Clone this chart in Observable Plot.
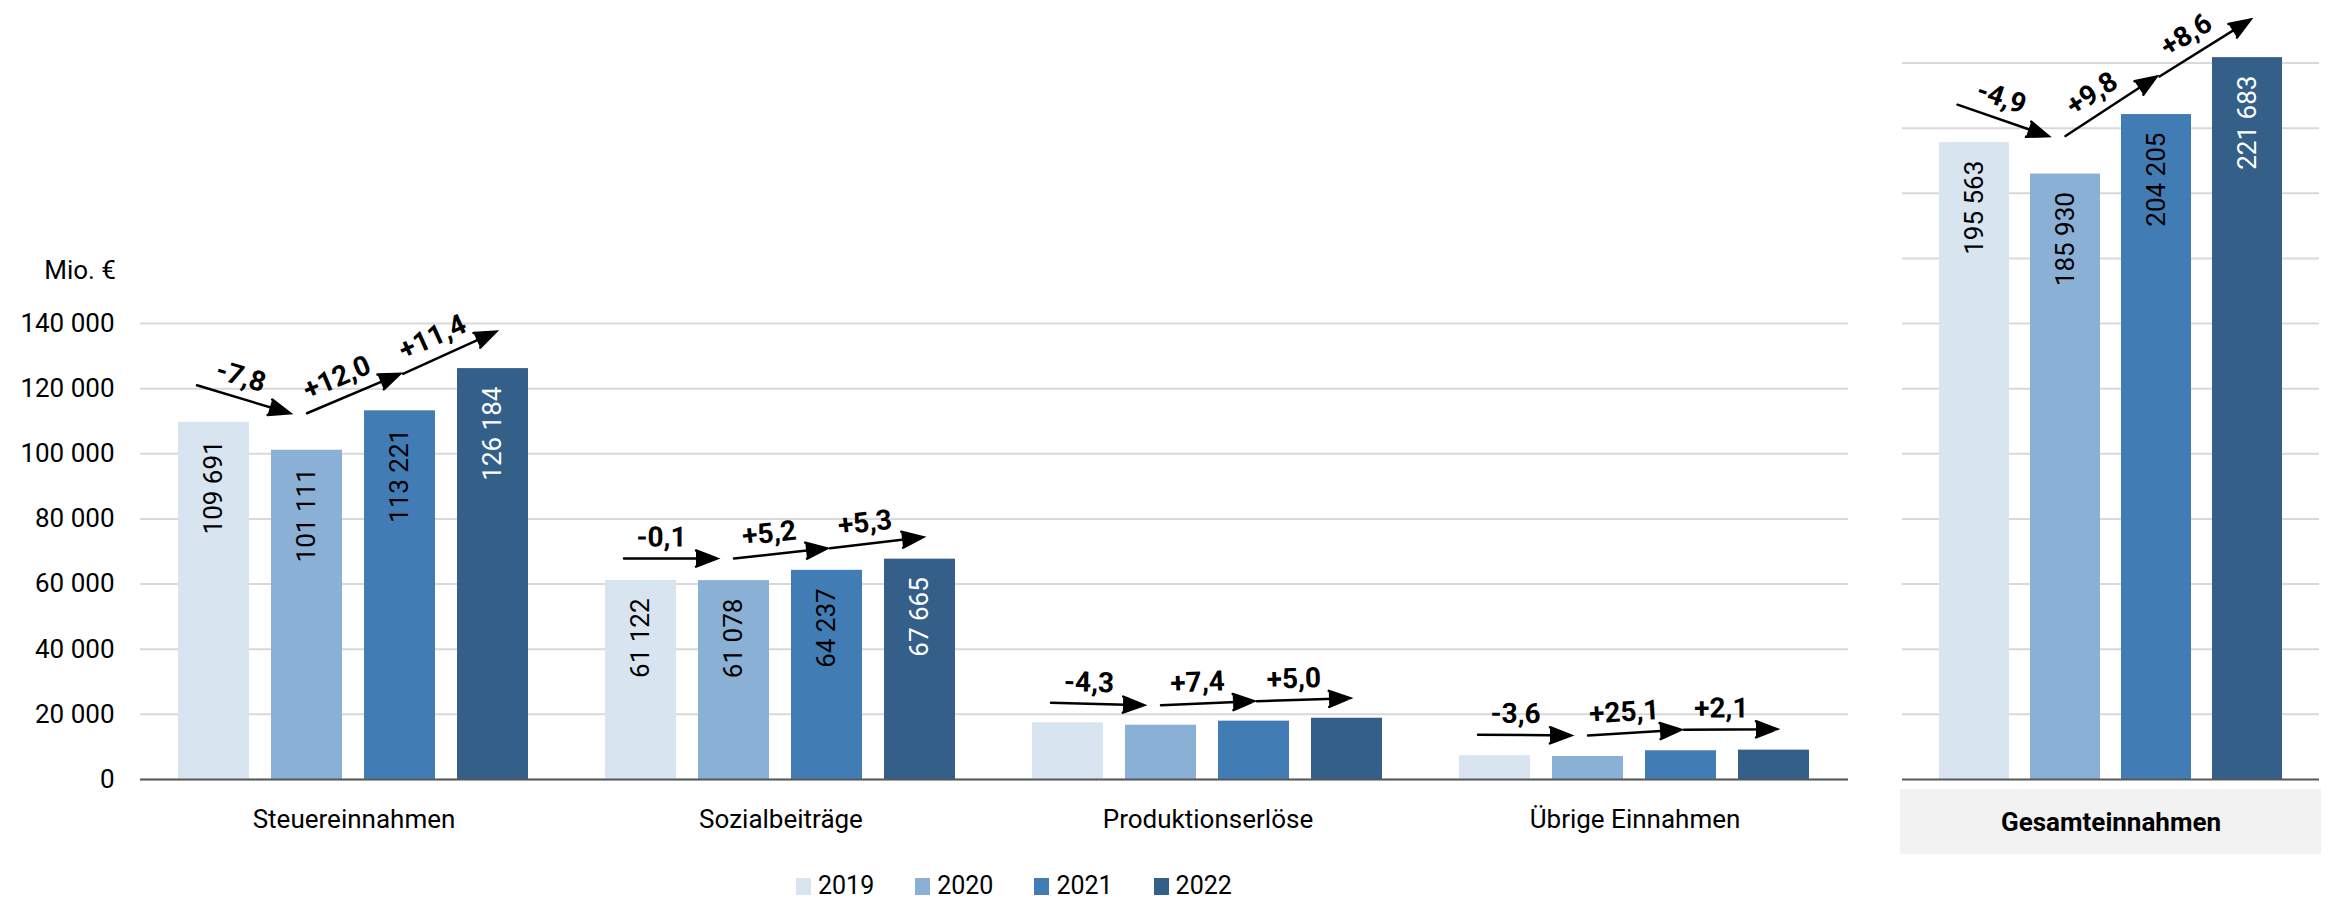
<!DOCTYPE html>
<html>
<head>
<meta charset="utf-8">
<script src="https://cdn.jsdelivr.net/npm/d3@7"></script>
<script src="https://cdn.jsdelivr.net/npm/@observablehq/plot@0.6"></script>
<style>
html, body { margin: 0; padding: 0; background: #fff; }
#wrap { position: relative; width: 2331px; height: 902px; overflow: hidden; font-family: Roboto, sans-serif; color: #000; }
#unit { position: absolute; left: 0; width: 116px; top: 255px; line-height: 30px; font-size: 26px; text-align: right; }
#gbox { position: absolute; left: 1900px; top: 789px; width: 421px; height: 65px; background: #f2f2f2; }
#left { position: absolute; left: 0; top: 0; }
#right { position: absolute; left: 1880px; top: 0; }
#legend { position: absolute; left: 796px; top: 872px; display: flex; align-items: center; font-size: 25px; line-height: 28px; }
#legend .item { display: flex; align-items: center; margin-right: 41px; }
#legend .sw { width: 15px; height: 17px; margin-right: 7px; }
</style>
</head>
<body>
<div id="wrap">
  <div id="unit">Mio. €</div>
  <div id="gbox"></div>
  <div id="left"></div>
  <div id="right"></div>
  <div id="legend"></div>
</div>
<script>
// ---- data ----
const years = ["2019", "2020", "2021", "2022"];
const groups = ["Steuereinnahmen", "Sozialbeiträge", "Produktionserlöse", "Übrige Einnahmen"];
const totalGroup = ["Gesamteinnahmen"];

const steuer = [109691, 101111, 113221, 126184];
const sozial = [61122, 61078, 64237, 67665];
const produktion = [17430, 16683, 17918, 18816];
const uebrige = [7320, 7058, 8829, 9018];
const gesamt = [195563, 185930, 204205, 221683];

const pctSteuer = ["-7,8", "+12,0", "+11,4"];
const pctSozial = ["-0,1", "+5,2", "+5,3"];
const pctProduktion = ["-4,3", "+7,4", "+5,0"];
const pctUebrige = ["-3,6", "+25,1", "+2,1"];
const pctGesamt = ["-4,9", "+9,8", "+8,6"];

const colors = ["#d9e4f1", "#8bb0d6", "#427cb4", "#335f89"];
const leftTicks = [0, 20000, 40000, 60000, 80000, 100000, 120000, 140000];
const rightTicks = [20000, 40000, 60000, 80000, 100000, 120000, 140000, 160000, 180000, 200000, 220000];

// ---- derived tables ----
const rowsFor = (group, values) => years.map((year, i) => ({group, year, value: values[i]}));
const arrowsFor = (group, values, pcts) => [0, 1, 2].map(i => ({
  group, i, from: years[i], to: years[i + 1], v1: values[i], v2: values[i + 1], label: pcts[i]
}));

const leftRows = [
  ...rowsFor(groups[0], steuer), ...rowsFor(groups[1], sozial),
  ...rowsFor(groups[2], produktion), ...rowsFor(groups[3], uebrige)
];
const leftArrows = [
  ...arrowsFor(groups[0], steuer, pctSteuer), ...arrowsFor(groups[1], sozial, pctSozial),
  ...arrowsFor(groups[2], produktion, pctProduktion), ...arrowsFor(groups[3], uebrige, pctUebrige)
];
const rightRows = rowsFor(totalGroup[0], gesamt);
const rightArrows = arrowsFor(totalGroup[0], gesamt, pctGesamt);

// ---- styling / layout ----
const H = 860, MT = 4, MB = 81, YMAX = 238000;
const PI = 0.235, PO = 0.39;
const lift = {"Steuereinnahmen": 37, "Sozialbeiträge": 22, "Produktionserlöse": 20, "Übrige Einnahmen": 21, "Gesamteinnahmen": 38};
const shift = [-17, 0, 3];
const fmt = d => d3.format(",")(d).replace(/,/g, " ");

function panel({width, ml, mr, fxDomain, rows, arrows, grid, yAxis, tickPadding, bold}) {
  const opts = marks => ({
    width, height: H, marginTop: MT, marginBottom: MB, marginLeft: ml, marginRight: mr,
    style: {fontFamily: "Roboto, sans-serif", fontSize: "26px", color: "#000", background: "transparent",
            overflow: "visible", fontWeight: bold ? "bold" : "normal"},
    x: {domain: years, paddingInner: PI, paddingOuter: PO, axis: null},
    fx: {domain: fxDomain, padding: 0, axis: "bottom", label: null, tickSize: 0, tickPadding},
    y: yAxis
      ? {domain: [0, YMAX], axis: "left", ticks: leftTicks, tickFormat: fmt, tickSize: 0, tickPadding: 26, label: null}
      : {domain: [0, YMAX], axis: null},
    color: {domain: years, range: colors},
    marks
  });

  // first pass: read the scales to get screen step and vertical factor
  let step, ky;
  try {
    const base = Plot.plot(opts([Plot.barY(rows, {fx: "group", x: "year", y: "value", fill: "year"})]));
    const sx = base.scale("x"), sy = base.scale("y");
    step = sx.step ?? (sx.bandwidth / (1 - PI));
    ky = (sy.apply(0) - sy.apply(100000)) / 100000;
  } catch (e) {}
  if (!(step > 0)) step = ((width - ml - mr) / fxDomain.length) / (years.length - PI + 2 * PO);
  if (!(ky > 0)) ky = (H - MT - MB) / YMAX;

  const arrowMarks = arrows.flatMap(a => {
    const sdx = shift[a.i];
    const up = lift[a.group];
    const ang = Math.atan2(-(a.v2 - a.v1) * ky, step);
    const deg = ang * 180 / Math.PI;
    const ox = 21 * Math.sin(ang) - 9 * Math.cos(ang);
    const oy = -21 * Math.cos(ang) - 9 * Math.sin(ang);
    return [
      Plot.arrow([a], {
        fx: "group", x1: "from", x2: "to", y1: "v1", y2: "v2",
        dx: sdx, dy: -up, stroke: "#000", fill: "#000", strokeWidth: 2.5,
        headAngle: 42, headLength: 13.5, strokeLinejoin: "miter", strokeMiterlimit: 10
      }),
      Plot.text([a], {
        fx: "group", x: "from", y: d => (d.v1 + d.v2) / 2, text: "label",
        rotate: deg, dx: step / 2 + sdx + ox, dy: -up + oy,
        fontWeight: "bold", fontSize: 28, fill: "#000", textAnchor: "middle", lineAnchor: "middle"
      })
    ];
  });

  const labelled = rows.filter(d => d.value > 30000);
  return Plot.plot(opts([
    Plot.ruleY(grid, {stroke: "#d9d9d9", strokeWidth: 2}),
    Plot.barY(rows, {fx: "group", x: "year", y: "value", fill: "year"}),
    Plot.ruleY([0], {stroke: "#595959", strokeWidth: 2}),
    Plot.text(labelled.filter(d => d.year !== "2022"), {
      fx: "group", x: "year", y: "value", text: d => fmt(d.value), rotate: -90,
      textAnchor: "end", lineAnchor: "middle", dy: 18, fill: "#000", fontSize: 26, fontWeight: "normal"
    }),
    Plot.text(labelled.filter(d => d.year === "2022"), {
      fx: "group", x: "year", y: "value", text: d => fmt(d.value), rotate: -90,
      textAnchor: "end", lineAnchor: "middle", dy: 18, fill: "#fff", fontSize: 26, fontWeight: "normal"
    }),
    ...arrowMarks
  ]));
}

document.getElementById("left").appendChild(panel({
  width: 1860, ml: 138, mr: 11, fxDomain: groups, rows: leftRows, arrows: leftArrows,
  grid: leftTicks, yAxis: true, tickPadding: 30, bold: false
}));
document.getElementById("right").appendChild(panel({
  width: 451, ml: 22, mr: 12, fxDomain: totalGroup, rows: rightRows, arrows: rightArrows,
  grid: rightTicks, yAxis: false, tickPadding: 33, bold: true
}));

// legend
const legend = document.getElementById("legend");
years.forEach((y, i) => {
  const item = document.createElement("div");
  item.className = "item";
  const sw = document.createElement("div");
  sw.className = "sw";
  sw.style.background = colors[i];
  const t = document.createElement("span");
  t.textContent = y;
  item.appendChild(sw); item.appendChild(t);
  legend.appendChild(item);
});
</script>
</body>
</html>
